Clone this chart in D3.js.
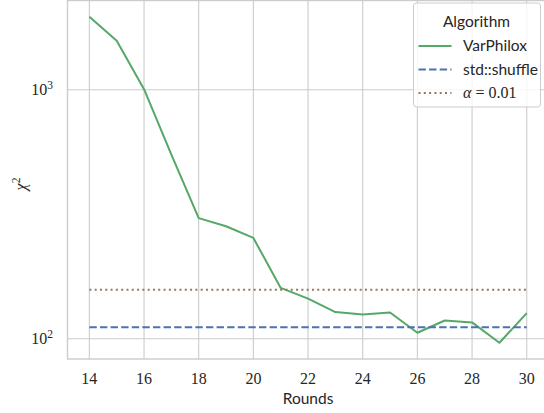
<!DOCTYPE html>
<html><head><meta charset="utf-8">
<script src="https://cdn.jsdelivr.net/npm/d3@7"></script>
<style>body{margin:0;background:#fff;} svg{display:block;}</style>
</head><body>
<svg id="chart" width="544" height="413"></svg>
<script>
const rounds = [14,15,16,17,18,19,20,21,22,23,24,25,26,27,28,29,30];
const varPhilox = [1963,1573,1005,549,305,283,254,160,145,128,125,127.5,105.7,118.4,116.3,96.4,126.7];
const stdShuffle = 111.3;
const alphaLevel = 157.3;
const xTicks = [14,16,18,20,22,24,26,28,30];
const yTicks = [100,1000];
const legendLabels = ["VarPhilox","std::shuffle"];

(function(){
const svg=d3.select("#chart");
const pL=67.5, pR=548.6, pT=0.5, pB=359;

const lmin=Math.log10(d3.min(varPhilox)), lmax=Math.log10(d3.max(varPhilox));
const pad=(lmax-lmin)*0.05;
const y=d3.scaleLog().domain([10**(lmin-pad),10**(lmax+pad)]).range([pB,pT]);
const xpad=(30-14)*0.05;
const x=d3.scaleLinear().domain([14-xpad,30+xpad]).range([pL,pR]);

const grid="#cccccc";
svg.append("g").selectAll("line").data(xTicks).join("line")
  .attr("x1",d=>x(d)).attr("x2",d=>x(d)).attr("y1",pT).attr("y2",pB)
  .attr("stroke",grid).attr("stroke-width",1.1);
svg.append("g").selectAll("line").data(yTicks).join("line")
  .attr("x1",pL).attr("x2",pR).attr("y1",d=>y(d)).attr("y2",d=>y(d))
  .attr("stroke",grid).attr("stroke-width",1.1);
svg.append("rect").attr("x",pL).attr("y",pT).attr("width",pR-pL).attr("height",pB-pT)
  .attr("fill","none").attr("stroke",grid).attr("stroke-width",1.4);

const serif="'Liberation Serif','DejaVu Serif',serif";
const sans="Lato,'Open Sans','DejaVu Sans',sans-serif";
svg.append("g").selectAll("text").data(xTicks).join("text")
  .attr("x",d=>x(d)).attr("y",384).attr("text-anchor","middle")
  .attr("font-family",serif).attr("font-size",16).attr("fill","#262626").text(d=>d);
const yt=svg.append("g").selectAll("text").data(yTicks).join("text")
  .attr("x",53).attr("y",d=>y(d)+5.5).attr("text-anchor","end")
  .attr("font-family",serif).attr("font-size",16).attr("fill","#262626");
yt.append("tspan").text("10");
yt.append("tspan").attr("dy",-6.5).attr("font-size",11.5).text(d=>Math.round(Math.log10(d)));

svg.append("text").attr("x",x(22)).attr("y",404).attr("text-anchor","middle")
  .attr("font-family",sans).attr("font-size",15.5).attr("fill","#262626").text("Rounds");
const yl=svg.append("text").attr("transform","translate(26,184) rotate(-90)")
  .attr("text-anchor","middle").attr("font-family",serif).attr("font-size",16).attr("fill","#262626");
yl.append("tspan").attr("font-style","italic").text("χ");
yl.append("tspan").attr("dy",-6.5).attr("font-size",11.5).text("2");

const green="#55a868", blue="#4c72b0", brown="#937860";
const line=d3.line().x((d,i)=>x(rounds[i])).y(d=>y(d));
svg.append("path").datum(varPhilox).attr("d",line).attr("fill","none")
  .attr("stroke",green).attr("stroke-width",2).attr("stroke-linejoin","round");
const hline=v=>d3.line()([[x(rounds[0]),y(v)],[x(rounds[rounds.length-1]),y(v)]]);
svg.append("path").attr("d",hline(stdShuffle)).attr("fill","none")
  .attr("stroke",blue).attr("stroke-width",2).attr("stroke-dasharray","7.4,3.2");
svg.append("path").attr("d",hline(alphaLevel)).attr("fill","none")
  .attr("stroke",brown).attr("stroke-width",2).attr("stroke-dasharray","2,3.3");

const lg=svg.append("g");
lg.append("rect").attr("x",413.5).attr("y",3).attr("width",127).attr("height",104).attr("rx",3)
  .attr("fill","#fff").attr("fill-opacity",0.8).attr("stroke",grid).attr("stroke-width",1);
lg.append("text").attr("x",476.5).attr("y",27).attr("text-anchor","middle")
  .attr("font-family",sans).attr("font-size",15.5).attr("fill","#262626").text("Algorithm");
const items=[{c:green,d:null,l:legendLabels[0]},{c:blue,d:"7.4,3.2",l:legendLabels[1]},{c:brown,d:"2,3.3",l:null}];
items.forEach((it,i)=>{
  const yy=46+i*23.5;
  lg.append("line").attr("x1",418.5).attr("x2",451.5).attr("y1",yy).attr("y2",yy)
    .attr("stroke",it.c).attr("stroke-width",2).attr("stroke-dasharray",it.d);
  if(it.l){
    lg.append("text").attr("x",463).attr("y",yy+5).attr("font-family",sans).attr("font-size",15.5)
      .attr("fill","#262626").text(it.l);
  } else {
    const t=lg.append("text").attr("x",463).attr("y",yy+5).attr("font-family",serif).attr("font-size",16).attr("fill","#262626");
    t.append("tspan").attr("font-style","italic").text("α");
    t.append("tspan").attr("dx",4).text("=");
    t.append("tspan").attr("dx",4).text("0.01");
  }
});
})();
</script>
</body></html>
